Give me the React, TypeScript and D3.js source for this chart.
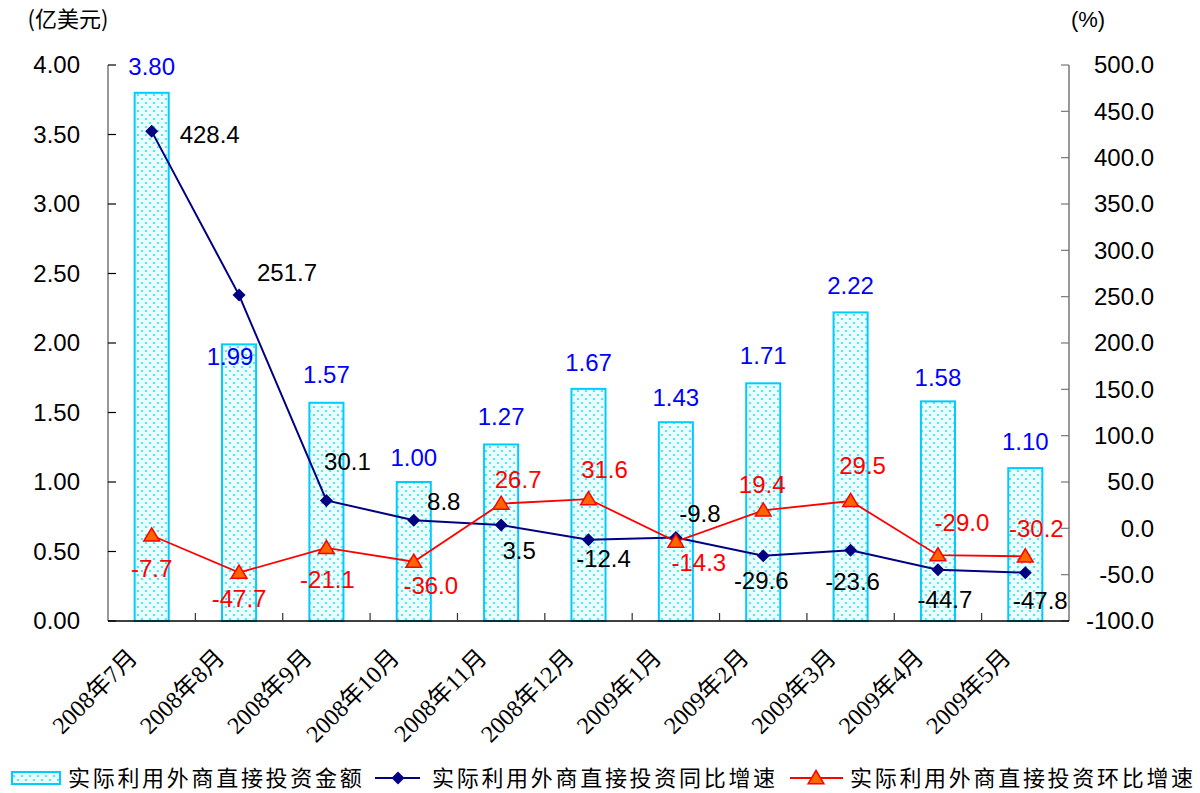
import React from 'react';
import * as d3 from 'd3';

// data
const months = ['2008年7月', '2008年8月', '2008年9月', '2008年10月', '2008年11月', '2008年12月', '2009年1月', '2009年2月', '2009年3月', '2009年4月', '2009年5月'];
const amount = [3.8, 1.99, 1.57, 1.0, 1.27, 1.67, 1.43, 1.71, 2.22, 1.58, 1.1];
const yoy = [428.4, 251.7, 30.1, 8.8, 3.5, -12.4, -9.8, -29.6, -23.6, -44.7, -47.8];
const mom = [-7.7, -47.7, -21.1, -36.0, 26.7, 31.6, -14.3, 19.4, 29.5, -29.0, -30.2];
const leftTicks = [0, 0.5, 1, 1.5, 2, 2.5, 3, 3.5, 4];
const rightTicks = [-100, -50, 0, 50, 100, 150, 200, 250, 300, 350, 400, 450, 500];
const legendNames = ['实际利用外商直接投资金额', '实际利用外商直接投资同比增速', '实际利用外商直接投资环比增速'];

// label nudges (dx, dy from the point)
const barLabelOff = [[0, -26], [-9, 12], [0, -28], [0, -24], [0, -28], [0, -26], [0, -25], [0, -28], [0, -27], [0, -24], [0, -27]];
const yoyLabelOff = [[58, 3], [48, -22], [21, -39], [30, -19], [18, 26], [15, 19], [24, -24], [-2, 25], [2, 31], [7, 30], [15, 28]];
const momLabelOff = [[0, 33], [0, 26], [1, 32], [17, 24], [17, -24], [16, -29], [23, 21], [-1, -26], [12, -35], [24, -33], [11, -28]];

const sans = '"Liberation Sans", Arial, sans-serif';
const cjk = '"Noto Sans CJK SC", "Liberation Sans", sans-serif';
const serif = '"Liberation Serif", "Noto Sans CJK SC", serif';

const App = () => {
  const width = 1200;
  const height = 793;
  const margin = { top: 65, left: 108, right: 131, bottom: 172 };
  const innerW = width - margin.left - margin.right;
  const innerH = height - margin.top - margin.bottom;

  const x = d3.scaleBand().domain(months).range([0, innerW]);
  const yL = d3.scaleLinear().domain([0, 4]).range([innerH, 0]);
  const yR = d3.scaleLinear().domain([-100, 500]).range([innerH, 0]);
  const barW = x.bandwidth() * 0.39;
  const cx = (m: string) => (x(m) as number) + x.bandwidth() / 2;

  const yoyLine = d3.line<number>().x((_, i) => cx(months[i])).y((d) => yR(d));
  const momLine = d3.line<number>().x((_, i) => cx(months[i])).y((d) => yR(d));

  const diamond = (px: number, py: number, r: number) => `M${px},${py - r}L${px + r},${py}L${px},${py + r}L${px - r},${py}Z`;
  const triangle = (px: number, py: number, r: number) => `M${px},${py - r}L${px + r * 1.05},${py + r * 0.75}L${px - r * 1.05},${py + r * 0.75}Z`;

  return (
    <svg width={width} height={height} style={{ position: 'absolute', left: 0, top: 0, background: '#fff' }}>
      <defs>
        <pattern id="dots" width="8" height="8" patternUnits="userSpaceOnUse">
          <rect width="8" height="8" fill="#eaffff" />
          <circle cx="2" cy="2" r="1.1" fill="#33ddff" />
          <circle cx="6" cy="6" r="1.1" fill="#33ddff" />
        </pattern>
      </defs>

      <text x={68} y={27} fontFamily={cjk} fontSize={22} textAnchor="middle">(亿美元)</text>
      <text x={1088} y={27} fontFamily={sans} fontSize={22} textAnchor="middle">(%)</text>

      <g transform={`translate(${margin.left},${margin.top})`}>
        {/* bars */}
        {amount.map((v, i) => (
          <rect key={months[i]} x={cx(months[i]) - barW / 2} y={yL(v)} width={barW} height={innerH - yL(v)}
            fill="url(#dots)" stroke="#00ccff" strokeWidth={2} />
        ))}

        {/* left axis */}
        <line x1={0} y1={0} x2={0} y2={innerH} stroke="#777" strokeWidth={1.5} />
        {leftTicks.map((t) => (
          <g key={t} transform={`translate(0,${yL(t)})`}>
            <line x1={0} x2={8} stroke="#000" strokeWidth={1.2} />
            <text x={-28} dy="0.35em" textAnchor="end" fontFamily={sans} fontSize={24}>{t.toFixed(2)}</text>
          </g>
        ))}

        {/* right axis */}
        <line x1={innerW} y1={0} x2={innerW} y2={innerH} stroke="#777" strokeWidth={1.5} />
        {rightTicks.map((t) => (
          <g key={t} transform={`translate(${innerW},${yR(t)})`}>
            <line x1={-8} x2={0} stroke="#777" strokeWidth={1.2} />
            <text x={85} dy="0.35em" textAnchor="end" fontFamily={sans} fontSize={24}>{t.toFixed(1)}</text>
          </g>
        ))}

        {/* bottom axis */}
        <line x1={0} y1={innerH} x2={innerW} y2={innerH} stroke="#000" strokeWidth={1.5} />
        {months.map((m, i) => (
          <g key={m}>
            {i > 0 && <line x1={x(m)} x2={x(m)} y1={innerH} y2={innerH - 8} stroke="#333" strokeWidth={1.2} />}
            <text transform={`translate(${cx(m) - 13},${innerH + 38}) rotate(-45)`} textAnchor="end"
              fontFamily={serif} fontSize={24}>{m}</text>
          </g>
        ))}

        {/* lines */}
        <path d={yoyLine(yoy) as string} fill="none" stroke="#000080" strokeWidth={2} />
        <path d={momLine(mom) as string} fill="none" stroke="#ff0000" strokeWidth={1.8} />
        {yoy.map((v, i) => (
          <path key={'d' + i} d={diamond(cx(months[i]), yR(v), 6.5)} fill="#000080" />
        ))}
        {mom.map((v, i) => (
          <path key={'t' + i} d={triangle(cx(months[i]), yR(v), 7.5)} fill="#ff6600" stroke="#ff0000" strokeWidth={1.5} />
        ))}

        {/* labels */}
        {amount.map((v, i) => (
          <text key={'bl' + i} x={cx(months[i]) + barLabelOff[i][0]} y={yL(v) + barLabelOff[i][1]} dy="0.35em"
            textAnchor="middle" fontFamily={sans} fontSize={24} fill="#0000ff">{v.toFixed(2)}</text>
        ))}
        {yoy.map((v, i) => (
          <text key={'yl' + i} x={cx(months[i]) + yoyLabelOff[i][0]} y={yR(v) + yoyLabelOff[i][1]} dy="0.35em"
            textAnchor="middle" fontFamily={sans} fontSize={24} fill="#000">{v.toFixed(1)}</text>
        ))}
        {mom.map((v, i) => (
          <text key={'ml' + i} x={cx(months[i]) + momLabelOff[i][0]} y={yR(v) + momLabelOff[i][1]} dy="0.35em"
            textAnchor="middle" fontFamily={sans} fontSize={24} fill="#ff0000">{v.toFixed(1)}</text>
        ))}
      </g>

      {/* legend */}
      <g transform="translate(0,778)">
        <rect x={12} y={-6} width={48} height={12} fill="url(#dots)" stroke="#00ccff" strokeWidth={2} />
        <text x={68} dy="0.35em" fontFamily={cjk} fontSize={22} letterSpacing={2.7}>{legendNames[0]}</text>
        <line x1={375} x2={420} y1={0} y2={0} stroke="#000080" strokeWidth={2} />
        <path d={diamond(398, 0, 6.5)} fill="#000080" />
        <text x={432} dy="0.35em" fontFamily={cjk} fontSize={22} letterSpacing={2.7}>{legendNames[1]}</text>
        <line x1={790} x2={843} y1={0} y2={0} stroke="#ff0000" strokeWidth={1.8} />
        <path d={triangle(816, 0, 7.5)} fill="#ff6600" stroke="#ff0000" strokeWidth={1.5} />
        <text x={850} dy="0.35em" fontFamily={cjk} fontSize={22} letterSpacing={2.7}>{legendNames[2]}</text>
      </g>
    </svg>
  );
};

export default App;
